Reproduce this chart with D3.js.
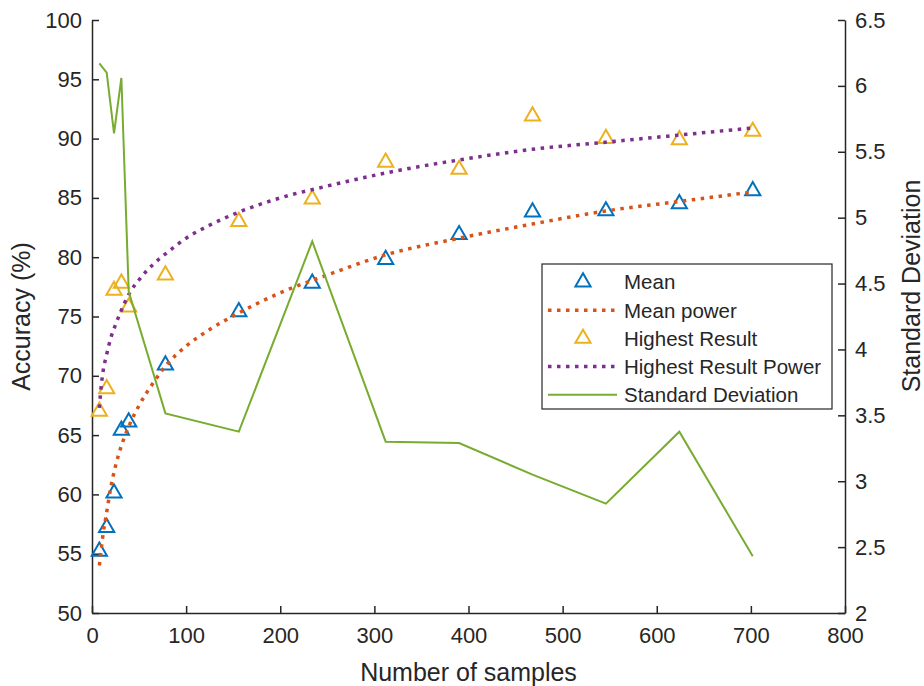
<!DOCTYPE html>
<html>
<head>
<meta charset="utf-8">
<script src="https://cdn.jsdelivr.net/npm/d3@7"></script>
<style>
	body { margin: 0; background: #fff; }
	text { font-family: "Liberation Sans", Arial, sans-serif; fill: #262626; }
</style>
</head>
<body>
<div id="chart"></div>
<script>
// sample sizes
const sampleSizes = [7.8, 15.6, 23.4, 31.2, 39, 78, 156, 234, 312, 390, 468, 546, 624, 702];
const meanAcc = [55.2, 57.2, 60.1, 65.4, 66.1, 70.9, 75.4, 77.8, 79.8, 81.9, 83.8, 83.9, 84.5, 85.6];
const highestAcc = [67.0, 68.9, 77.2, 77.8, 75.8, 78.5, 83.0, 84.9, 88.0, 87.4, 91.9, 90.0, 89.9, 90.6];
const stdDev = [6.17, 6.1, 5.64, 6.06, 4.44, 3.515, 3.376, 4.82, 3.3, 3.29, 3.05, 2.83, 3.376, 2.43];

// fitted power curves
const fitX = [7.8, 10, 12, 15, 20, 25, 30, 40, 50, 65, 80, 100, 125, 156, 200, 250, 312, 390, 468, 546, 624, 702];
const meanFit = [54.0, 55.5, 56.8, 58.2, 60.6, 62.4, 63.8, 65.9, 67.5, 69.4, 71.0, 72.5, 73.9, 75.3, 77.0, 78.5, 80.2, 81.6, 82.8, 83.9, 84.7, 85.5];
const highestFit = [67.3, 69.3, 70.5, 71.6, 73.2, 74.3, 75.3, 77.0, 78.1, 79.4, 80.4, 81.6, 82.7, 83.8, 85.0, 86.0, 87.1, 88.2, 89.1, 89.7, 90.3, 90.9];

const xTicks = [0, 100, 200, 300, 400, 500, 600, 700, 800];
const yLeftTicks = [50, 55, 60, 65, 70, 75, 80, 85, 90, 95, 100];
const yRightTicks = [2, 2.5, 3, 3.5, 4, 4.5, 5, 5.5, 6, 6.5];

const legendItems = [
	{ name: "Mean", kind: "marker", color: "#0072BD" },
	{ name: "Mean power", kind: "dot", color: "#D95319" },
	{ name: "Highest Result", kind: "marker", color: "#EDB120" },
	{ name: "Highest Result Power", kind: "dot", color: "#7E2F8E" },
	{ name: "Standard Deviation", kind: "line", color: "#77AC30" }
];

const width = 924;
const height = 686;
const plotLeft = 92;
const plotRight = 845;
const plotTop = 20;
const plotBottom = 613;
const axisColor = "#262626";
const tickLen = 7;

const svg = d3
	.select("#chart")
	.append("svg")
	.attr("width", width)
	.attr("height", height);

const x = d3.scaleLinear().domain([0, 800]).range([plotLeft, plotRight]);
const yLeft = d3.scaleLinear().domain([50, 100]).range([plotBottom, plotTop]);
const yRight = d3.scaleLinear().domain([2, 6.5]).range([plotBottom, plotTop]);

const tri = d3.symbol().type(d3.symbolTriangle).size(100);

function styleAxis(g) {
	g.select(".domain").attr("stroke", axisColor).attr("stroke-width", 1.5);
	g.selectAll(".tick line").attr("stroke", axisColor).attr("stroke-width", 1.5);
	g.selectAll(".tick text").style("font-size", "22px").attr("fill", axisColor);
}

// axes
svg.append("g")
	.attr("transform", `translate(0, ${plotBottom})`)
	.call(d3.axisBottom(x).tickValues(xTicks).tickSizeInner(-tickLen).tickSizeOuter(0).tickPadding(14))
	.call(styleAxis);

svg.append("g")
	.attr("transform", `translate(${plotLeft}, 0)`)
	.call(d3.axisLeft(yLeft).tickValues(yLeftTicks).tickSizeInner(-tickLen).tickSizeOuter(0).tickPadding(10))
	.call(styleAxis);

svg.append("g")
	.attr("transform", `translate(${plotRight}, 0)`)
	.call(
		d3
			.axisRight(yRight)
			.tickValues(yRightTicks)
			.tickFormat(d3.format("~g"))
			.tickSizeInner(-tickLen)
			.tickSizeOuter(0)
			.tickPadding(10)
	)
	.call(styleAxis);

// axis titles
svg.append("text")
	.attr("x", (plotLeft + plotRight) / 2)
	.attr("y", 681)
	.attr("text-anchor", "middle")
	.style("font-size", "25px")
	.text("Number of samples");

svg.append("text")
	.attr("transform", `translate(30, ${(plotTop + plotBottom) / 2}) rotate(-90)`)
	.attr("text-anchor", "middle")
	.style("font-size", "25px")
	.text("Accuracy (%)");

svg.append("text")
	.attr("transform", `translate(920, 286) rotate(-90)`)
	.attr("text-anchor", "middle")
	.style("font-size", "25px")
	.text("Standard Deviation");

const plot = svg.append("g");

const fitLine = (arr) =>
	d3
		.line()
		.x((d, i) => x(fitX[i]))
		.y((d) => yLeft(d))
		.curve(d3.curveMonotoneX)(arr);

// mean markers
plot.selectAll(".meanPt")
	.data(meanAcc)
	.enter()
	.append("path")
	.attr("class", "meanPt")
	.attr("d", tri)
	.attr("transform", (d, i) => `translate(${x(sampleSizes[i])}, ${yLeft(d)})`)
	.attr("fill", "none")
	.attr("stroke", "#0072BD")
	.attr("stroke-width", 2);

plot.append("path")
	.attr("d", fitLine(meanFit))
	.attr("fill", "none")
	.attr("stroke", "#D95319")
	.attr("stroke-width", 3.5)
	.attr("stroke-dasharray", "3.5 5.5");

// highest result markers
plot.selectAll(".highPt")
	.data(highestAcc)
	.enter()
	.append("path")
	.attr("class", "highPt")
	.attr("d", tri)
	.attr("transform", (d, i) => `translate(${x(sampleSizes[i])}, ${yLeft(d)})`)
	.attr("fill", "none")
	.attr("stroke", "#EDB120")
	.attr("stroke-width", 2);

plot.append("path")
	.attr("d", fitLine(highestFit))
	.attr("fill", "none")
	.attr("stroke", "#7E2F8E")
	.attr("stroke-width", 3.5)
	.attr("stroke-dasharray", "3.5 5.5");

// std dev on right axis
plot.append("path")
	.datum(stdDev)
	.attr(
		"d",
		d3
			.line()
			.x((d, i) => x(sampleSizes[i]))
			.y((d) => yRight(d))
	)
	.attr("fill", "none")
	.attr("stroke", "#77AC30")
	.attr("stroke-width", 2);

// legend
const legend = svg.append("g").attr("transform", "translate(542, 264)");
legend
	.append("rect")
	.attr("width", 290)
	.attr("height", 145)
	.attr("fill", "#fff")
	.attr("stroke", axisColor)
	.attr("stroke-width", 1.2);

const rows = legend
	.selectAll(".legendRow")
	.data(legendItems)
	.enter()
	.append("g")
	.attr("class", "legendRow")
	.attr("transform", (d, i) => `translate(0, ${18 + i * 28.2})`);

rows.filter((d) => d.kind === "marker")
	.append("path")
	.attr("d", tri)
	.attr("transform", "translate(41, 0)")
	.attr("fill", "none")
	.attr("stroke", (d) => d.color)
	.attr("stroke-width", 2);

rows.filter((d) => d.kind !== "marker")
	.append("line")
	.attr("x1", 6)
	.attr("x2", 75)
	.attr("stroke", (d) => d.color)
	.attr("stroke-width", (d) => (d.kind === "dot" ? 3.5 : 2))
	.attr("stroke-dasharray", (d) => (d.kind === "dot" ? "3.5 5.5" : null));

rows.append("text")
	.attr("x", 82)
	.attr("dy", "0.36em")
	.style("font-size", "20.5px")
	.text((d) => d.name);
</script>
</body>
</html>
